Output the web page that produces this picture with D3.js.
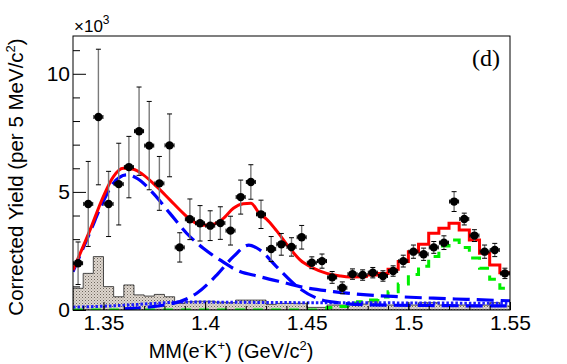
<!DOCTYPE html>
<html>
<head>
<meta charset="utf-8">
<script src="https://cdn.jsdelivr.net/npm/d3@7"></script>
<style>
body { margin: 0; background: #fff; }
svg text { font-family: "Liberation Sans", Arial, sans-serif; fill: #000; }
</style>
</head>
<body>
<div id="chart"></div>
<script>
// yields are in units of 10^3 per 5 MeV/c^2
var binCenters = [1.3375, 1.3425, 1.3475, 1.3525, 1.3575, 1.3625, 1.3675, 1.3725, 1.3775, 1.3825,
    1.3875, 1.3925, 1.3975, 1.4025, 1.4075, 1.4125, 1.4175, 1.4225, 1.4275, 1.4325,
    1.4375, 1.4425, 1.4475, 1.4525, 1.4575, 1.4625, 1.4675, 1.4725, 1.4775, 1.4825,
    1.4875, 1.4925, 1.4975, 1.5025, 1.5075, 1.5125, 1.5175, 1.5225, 1.5275, 1.5325,
    1.5375, 1.5425, 1.5475];
var yields = [1.98, 4.49, 8.17, 4.49, 5.33, 6.05, 7.57, 6.96, 5.36, 6.97,
    2.65, 3.84, 3.67, 3.57, 3.68, 3.36, 4.78, 5.42, 4.05, 2.58,
    2.78, 2.67, 3.08, 2.00, 2.07, 1.38, 0.94, 1.52, 1.48, 1.58,
    1.44, 1.65, 2.07, 2.47, 2.36, 2.65, 2.85, 4.59, 3.85, 3.15,
    2.47, 2.54, 1.55];
var yieldErrors = [0.9, 1.8, 2.87, 1.38, 1.73, 1.3, 1.87, 1.87, 1.14, 1.33,
    0.62, 0.86, 0.75, 0.63, 0.69, 0.61, 0.72, 0.73, 0.6, 0.53,
    0.46, 0.39, 0.5, 0.25, 0.3, 0.25, 0.25, 0.22, 0.22, 0.22,
    0.22, 0.22, 0.25, 0.28, 0.26, 0.25, 0.29, 0.42, 0.25, 0.25,
    0.28, 0.28, 0.22];
var hatchedBkg = [0.92, 1.55, 2.26, 0.99, 0.56, 1.06, 0.64, 0.59, 0.66, 0.56,
    0.28, 0.35, 0.37, 0.37, 0.33, 0.31, 0.42, 0.42, 0.42, 0.24,
    0.28, 0.28, 0.28, 0.11, 0.11, 0.21, 0.21, 0.25, 0.25, 0.35,
    0.21, 0.21, 0.21, 0.21, 0.31, 0.31, 0.21, 0.21, 0.21, 0.21,
    0.21, 0.31, 0.17];
var lambda1520 = [0, 0, 0, 0, 0, 0, 0, 0, 0, 0,
    0, 0, 0, 0, 0, 0, 0, 0, 0, 0,
    0, 0, 0, 0, 0, 0.11, 0.15, 0.3, 0.35, 0.42,
    0.55, 0.77, 1.1, 1.5, 1.85, 2.26, 2.71, 2.96, 2.65, 2.2,
    1.77, 1.3, 0.92];
// total fit: smooth below 1.48, binned above
var totalSmooth = [[1.335, 1.69], [1.3434, 3.39], [1.3499, 4.80], [1.3548, 5.64], [1.3597, 6.0],
    [1.3647, 5.96], [1.3696, 5.72], [1.3762, 5.22], [1.3827, 4.66], [1.3893, 4.09],
    [1.3942, 3.74], [1.3991, 3.59], [1.404, 3.63], [1.409, 3.88], [1.4139, 4.31],
    [1.4188, 4.50], [1.4225, 4.52], [1.427, 4.05], [1.4302, 3.85], [1.4352, 3.35],
    [1.4418, 2.6], [1.4467, 2.12], [1.4532, 1.77], [1.4598, 1.55], [1.4664, 1.44],
    [1.4713, 1.40], [1.48, 1.42]];
var totalBinned = [1.48, 1.55, 1.72, 2.05, 2.47, 2.78, 3.25, 3.46, 3.67, 3.39, 2.96, 2.40, 1.91, 1.58];
var broadPeak = [[1.335, 1.62], [1.3434, 3.3], [1.3499, 4.6], [1.3548, 5.36], [1.3614, 5.72],
    [1.3663, 5.58], [1.3745, 4.94], [1.3827, 4.09], [1.3909, 3.25], [1.3991, 2.61],
    [1.4073, 2.12], [1.4155, 1.69], [1.427, 1.41], [1.4401, 1.13], [1.4467, 0.99],
    [1.4631, 0.78], [1.4795, 0.64], [1.4959, 0.56], [1.5123, 0.50], [1.5287, 0.45], [1.55, 0.39]];
var narrowPeak = [[1.36, 0.05], [1.3843, 0.28], [1.3959, 0.71], [1.4057, 1.48], [1.4139, 2.26],
    [1.4215, 2.75], [1.427, 2.54], [1.4352, 1.83], [1.4467, 0.9], [1.4565, 0.45],
    [1.4664, 0.3], [1.4795, 0.22], [1.51, 0.19], [1.55, 0.17]];
var dottedBkg = [[1.335, 0.12], [1.35, 0.16], [1.36, 0.2], [1.375, 0.28], [1.39, 0.34],
    [1.41, 0.33], [1.45, 0.31], [1.5, 0.3], [1.55, 0.28]];
var xTicks = [1.35, 1.4, 1.45, 1.5, 1.55];
var yTicks = [0, 5, 10];
var yMinorTicks = [1, 2, 3, 4, 6, 7, 8, 9, 11];

var margin = {top: 36, left: 73, bottom: 54, right: 57},
    width = 567 - margin.left - margin.right,
    height = 364 - margin.top - margin.bottom,
    binWidth = 0.005;

var svg = d3.select("div#chart")
    .append("svg")
        .attr("width", width + margin.left + margin.right)
        .attr("height", height + margin.top + margin.bottom)
    .append("g")
        .attr("transform", "translate(" + margin.left + "," + margin.top + ")");

var x = d3.scaleLinear().domain([1.335, 1.55]).range([0, width]);
var y = d3.scaleLinear().domain([0, 11.6]).range([height, 0]);

var defs = svg.append("defs");
defs.append("clipPath").attr("id", "frame-clip")
    .append("rect").attr("width", width).attr("height", height);
var pat = defs.append("pattern")
    .attr("id", "hatch")
    .attr("patternUnits", "userSpaceOnUse")
    .attr("width", 3).attr("height", 3);
pat.append("rect").attr("width", 3).attr("height", 3).attr("fill", "#ddd6ce");
pat.append("rect").attr("width", 1).attr("height", 1).attr("fill", "#6e655c");
pat.append("rect").attr("x", 1.5).attr("y", 1.5).attr("width", 1).attr("height", 1).attr("fill", "#9a9088");

// step histograms as [low edge, value] plus closing edge
function steps(centers, values) {
    var pts = centers.map(function(c, i) { return [c - binWidth / 2, values[i]]; });
    pts.push([centers[centers.length - 1] + binWidth / 2, values[values.length - 1]]);
    return pts;
}

var plot = svg.append("g").attr("clip-path", "url(#frame-clip)");

var stepLine = d3.line()
    .curve(d3.curveStepAfter)
    .x(function(d) { return x(d[0]); })
    .y(function(d) { return y(d[1]); });
var smoothLine = d3.line()
    .curve(d3.curveMonotoneX)
    .x(function(d) { return x(d[0]); })
    .y(function(d) { return y(d[1]); });

plot.append("path")
    .datum(steps(binCenters, hatchedBkg))
    .attr("d", d3.area()
        .curve(d3.curveStepAfter)
        .x(function(d) { return x(d[0]); })
        .y0(y(0))
        .y1(function(d) { return y(d[1]); }))
    .style("fill", "url(#hatch)")
    .style("stroke", "#222")
    .style("stroke-width", 0.8);

// axes
svg.append("g")
    .attr("class", "axis axis--x")
    .attr("transform", "translate(0," + height + ")")
    .call(d3.axisBottom(x).tickValues(d3.range(1.34, 1.551, 0.01)).tickSize(-4).tickFormat(""));
svg.append("g")
    .attr("class", "axis axis--x")
    .attr("transform", "translate(0," + height + ")")
    .call(d3.axisBottom(x).tickValues(xTicks).tickSize(-8).tickPadding(5)
        .tickFormat(function(d) { return String(+d.toFixed(2)); }));
svg.append("g")
    .attr("class", "axis axis--y")
    .call(d3.axisLeft(y).tickValues(yMinorTicks).tickSize(-7).tickFormat(""));
svg.append("g")
    .attr("class", "axis axis--y")
    .call(d3.axisLeft(y).tickValues(yTicks).tickSize(-13).tickPadding(3));
svg.selectAll(".axis .domain").remove();
svg.selectAll(".axis text").style("font-size", "21px").style("font-family", "Liberation Sans, Arial, sans-serif");
svg.selectAll(".axis line").style("stroke", "#000");

plot.append("path")
    .datum(steps(binCenters, lambda1520))
    .attr("d", stepLine)
    .style("fill", "none").style("stroke", "#00ee00")
    .style("stroke-width", 3).style("stroke-dasharray", "10,8");

plot.append("path")
    .datum(dottedBkg)
    .attr("d", smoothLine)
    .style("fill", "none").style("stroke", "#1a1aff")
    .style("stroke-width", 3).style("stroke-dasharray", "2.5,2");

[broadPeak, narrowPeak].forEach(function(c) {
    plot.append("path")
        .datum(c)
        .attr("d", smoothLine)
        .style("fill", "none").style("stroke", "#0000ff")
        .style("stroke-width", 3.2).style("stroke-dasharray", "17,7");
});

plot.append("path")
    .datum(totalSmooth)
    .attr("d", smoothLine)
    .style("fill", "none").style("stroke", "#ff0000").style("stroke-width", 3);
plot.append("path")
    .datum(steps(binCenters.slice(binCenters.length - totalBinned.length), totalBinned))
    .attr("d", stepLine)
    .style("fill", "none").style("stroke", "#ff0000").style("stroke-width", 3);

// data points with error bars
var datapoints = svg.selectAll(".datapoint")
    .data(binCenters.map(function(c, i) { return {m: c, v: yields[i], e: yieldErrors[i]}; }))
    .enter().append("g")
        .attr("class", "datapoint");
datapoints.append("line")
    .attr("x1", function(d) { return x(d.m); }).attr("x2", function(d) { return x(d.m); })
    .attr("y1", function(d) { return y(d.v + d.e); }).attr("y2", function(d) { return y(d.v - d.e); })
    .style("stroke", "#7a7a7a").style("stroke-width", 1.4);
[1, -1].forEach(function(s) {
    datapoints.append("line")
        .attr("x1", function(d) { return x(d.m) - 2.5; }).attr("x2", function(d) { return x(d.m) + 2.5; })
        .attr("y1", function(d) { return y(d.v + s * d.e); }).attr("y2", function(d) { return y(d.v + s * d.e); })
        .style("stroke", "#000").style("stroke-width", 1);
    datapoints.append("line")
        .attr("x1", function(d) { return x(d.m) + s * 4.5; }).attr("x2", function(d) { return x(d.m) + s * 4.5; })
        .attr("y1", function(d) { return y(d.v) - 2; }).attr("y2", function(d) { return y(d.v) + 2; })
        .style("stroke", "#000").style("stroke-width", 1);
});
datapoints.append("line")
    .attr("x1", function(d) { return x(d.m) - 4.5; }).attr("x2", function(d) { return x(d.m) + 4.5; })
    .attr("y1", function(d) { return y(d.v); }).attr("y2", function(d) { return y(d.v); })
    .style("stroke", "#000").style("stroke-width", 1);
datapoints.append("circle")
    .attr("cx", function(d) { return x(d.m); })
    .attr("cy", function(d) { return y(d.v); })
    .attr("r", 4.2)
    .style("fill", "#000");

// frame
svg.append("rect")
    .attr("width", width).attr("height", height)
    .style("fill", "none").style("stroke", "#000").style("stroke-width", 1);

// exponent label
var expo = svg.append("text").attr("x", 1).attr("y", -4).style("font-size", "17px");
expo.append("tspan").text("\u00d710");
expo.append("tspan").attr("dy", -8).style("font-size", "12px").text("3");

svg.append("text")
    .attr("x", 427).attr("y", 30)
    .attr("text-anchor", "end")
    .style("font-family", "Liberation Serif, Times New Roman, serif")
    .style("font-size", "24px")
    .text("(d)");

var xt = svg.append("text")
    .attr("x", 158).attr("y", height + 48)
    .attr("text-anchor", "middle")
    .style("font-size", "20px");
xt.append("tspan").text("MM(e");
xt.append("tspan").attr("dy", -8).style("font-size", "13px").text("-");
xt.append("tspan").attr("dy", 8).text("K");
xt.append("tspan").attr("dy", -8).style("font-size", "13px").text("+");
xt.append("tspan").attr("dy", 8).text(") (GeV/c");
xt.append("tspan").attr("dy", -8).style("font-size", "13px").text("2");
xt.append("tspan").attr("dy", 8).text(")");

var yt = svg.append("text")
    .attr("transform", "translate(" + (-50) + "," + (height / 2 + 4) + ") rotate(-90)")
    .attr("text-anchor", "middle")
    .style("font-size", "20.5px");
yt.append("tspan").text("Corrected Yield (per 5 MeV/c");
yt.append("tspan").attr("dy", -8).style("font-size", "13px").text("2");
yt.append("tspan").attr("dy", 8).text(")");
</script>
</body>
</html>
